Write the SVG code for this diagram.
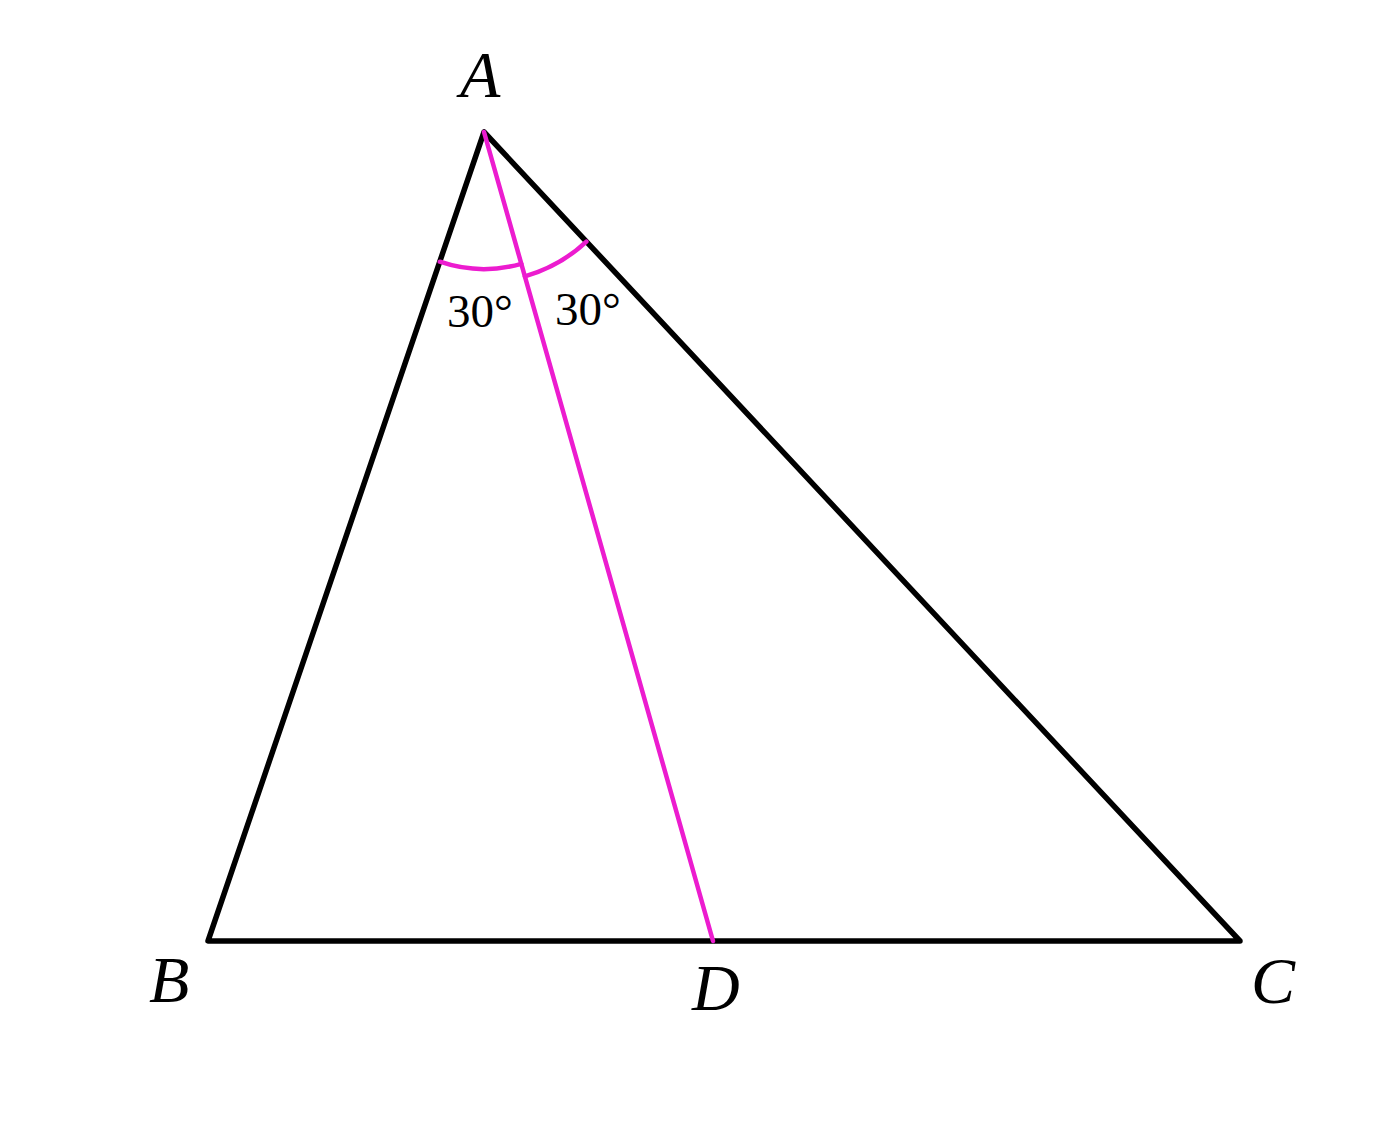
<svg xmlns="http://www.w3.org/2000/svg" width="1392" height="1130" viewBox="0 0 1392 1130">
<style>
.edge{stroke:#000;stroke-width:5.5;fill:none;stroke-linejoin:round;stroke-linecap:round}
.mag{stroke:#ec1ccf;stroke-width:4.5;fill:none;stroke-linecap:round}
.lbl{font-family:"Liberation Serif",serif;font-style:italic;font-size:66px;fill:#000}
.ang{font-family:"Liberation Serif",serif;font-size:47px;fill:#000}
</style>
<rect width="1392" height="1130" fill="#fff"/>
<g id="connectors">
<polygon class="edge" points="484,132 208,941 1240,941"/>
<line class="mag" x1="484" y1="132" x2="713" y2="941"/>
<path class="mag" d="M439.8,261.7 A137,137 0 0 0 521.3,263.8"/>
<path class="mag" d="M524.9,276.3 A150,150 0 0 0 586.4,241.6"/>
</g>
<g id="A"><text class="lbl" x="460" y="97">A</text></g>
<g id="B"><text class="lbl" x="149" y="1002">B</text></g>
<g id="C"><text class="lbl" x="1251" y="1003">C</text></g>
<g id="D"><text class="lbl" x="692" y="1010">D</text></g>
<g id="angle1"><text class="ang" x="447" y="327">30°</text></g>
<g id="angle2"><text class="ang" x="555" y="325">30°</text></g>
</svg>
